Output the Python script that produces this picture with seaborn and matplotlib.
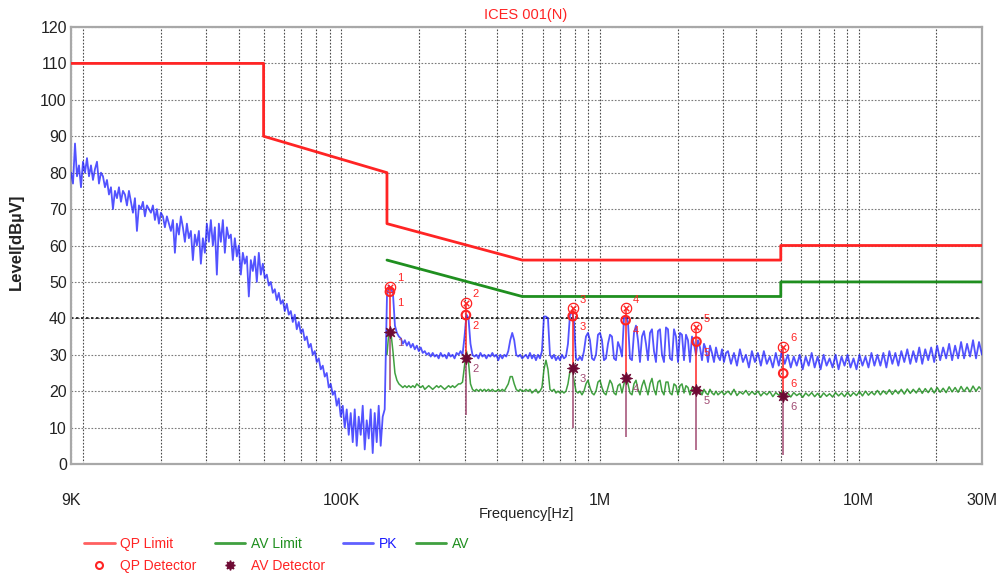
import matplotlib
matplotlib.use("Agg")
import matplotlib.pyplot as plt
import numpy as np
import pandas as pd
import seaborn as sns
from matplotlib.lines import Line2D
from matplotlib.ticker import FixedLocator, LogLocator, NullFormatter

# limit lines (frequency in Hz, level in dBuV)
qp_limit_freq = [9e3, 50e3, 50e3, 150e3, 150e3, 500e3, 5e6, 5e6, 30e6]
qp_limit_lvl = [110, 110, 90, 80, 66, 56, 56, 60, 60]
av_limit_freq = [150e3, 500e3, 5e6, 5e6, 30e6]
av_limit_lvl = [56, 46, 46, 50, 50]

# PK sweep (start Hz, stop Hz)
pk_low_span = (9.0e3, 147e3)
pk_low = [80, 77, 88, 79, 82, 76, 83, 80, 84, 79,
          82, 78, 81, 83, 77, 80, 79, 76, 78, 74,
          76, 70, 75, 73, 76, 72, 75, 74, 71, 75,
          72, 69, 73, 64, 71, 70, 72, 68, 71, 70,
          69, 71, 67, 70, 66, 69, 68, 65, 68, 66,
          64, 67, 58, 66, 63, 68, 65, 61, 66, 62,
          64, 56, 63, 60, 64, 55, 62, 58, 66, 61,
          67, 60, 65, 52, 66, 61, 67, 58, 65, 62,
          63, 56, 62, 57, 60, 52, 58, 55, 57, 46,
          56, 53, 57, 50, 58, 52, 55, 51, 52, 49,
          50, 47, 48, 45, 47, 44, 45, 42, 44, 41,
          42, 39, 41, 37, 39, 36, 37, 34, 35, 32,
          33, 30, 31, 28, 29, 26, 27, 24, 25, 21,
          22, 19, 20, 16, 18, 13, 16, 10, 15, 8,
          14, 6, 15, 5, 13, 8, 16, 4, 12, 7,
          15, 3, 14, 6, 16, 5, 13, 15]
pk_mid_span = (150e3, 500e3)
pk_mid = [46, 49, 48, 47, 38, 36, 35, 34.5, 33, 34,
          32.5, 33.5, 32, 33, 31.5, 32.5, 31, 32, 30.5, 31,
          30, 30.5, 29.5, 30.5, 29.5, 30, 29, 30.5, 29.5, 30,
          29, 30.5, 29.5, 30, 29, 30.5, 30, 31, 30, 35,
          41, 40, 33, 30, 29.5, 30, 29, 30.5, 29.5, 30,
          29, 30, 29.5, 30.5, 29.5, 30, 28.5, 30, 29, 30,
          29.5, 31, 34, 36, 34, 30, 29.5, 30, 29]
pk_hi_span = (508e3, 3.07e6)
pk_hi = [29.5, 30, 29, 30.5, 29, 30, 28.5, 30, 29, 31,
         40.5, 40.5, 40, 30, 29, 30, 28.5, 29.5, 28.5, 30,
         29, 29.5, 33, 41, 42, 39, 29, 28.5, 29.5, 28.5,
         31, 35, 36, 34, 29, 28.5, 30, 35.5, 36, 34,
         28.5, 29, 33, 35.5, 35, 29, 28.5, 33.5, 32, 29.5,
         40, 40.5, 39, 29, 28.5, 36, 38, 34, 28, 35,
         36.5, 33, 28.5, 36, 37, 31, 28, 36.5, 37, 30,
         28, 37.5, 37, 29, 28.5, 37, 35, 28, 36, 35.5,
         28.5, 35.5, 34, 28, 35, 33, 30, 34, 32, 28.5,
         33, 31.5, 28, 32.5, 30.5, 28, 32, 29.5, 28.5, 31.5,
         28, 30.5]
pk_top_span = (3.125e6, 30e6)
pk_top = [31, 27.5, 30.5, 27, 31.5, 28, 30, 26.5, 31, 28,
          30.5, 27, 31, 27.5, 29.5, 26.5, 30.5, 27, 31, 27.5,
          30, 26.5, 29.5, 27, 30, 26, 29.5, 27, 30.5, 26.5,
          29.5, 26, 30, 27, 29, 26.5, 30, 26, 29.5, 27,
          30, 26.5, 29, 26, 30, 27, 29.5, 26.5, 30.5, 27,
          30, 27, 30.5, 26.5, 31, 27.5, 30.5, 27, 31, 28,
          31.5, 27.5, 31, 28, 32, 27.5, 31.5, 28.5, 32, 28,
          32.5, 28.5, 32, 29, 33, 28.5, 32.5, 29, 33.5, 29,
          33, 29.5, 34, 29, 33.5, 30]

# AV sweep (starts at 150 kHz)
av_mid_span = (150e3, 500e3)
av_mid = [30, 36.5, 36, 31, 25, 23, 22, 21.5, 21, 21.5,
          21, 21.5, 21, 21.5, 21, 22, 21.5, 21, 21.5, 20.5,
          21, 21.5, 21, 20.5, 21, 21.5, 21, 21.5, 21, 20.5,
          21, 21.5, 21, 21.5, 21, 21.5, 22, 22, 22.5, 27,
          31, 28, 22, 20.5, 20, 20.5, 20, 20.5, 20, 20.5,
          20, 20.5, 20, 20.5, 20, 20, 20.5, 20, 20.5, 20,
          21, 22, 24, 24, 22, 20.5, 20, 20.5, 20]
av_hi_span = (508e3, 3.07e6)
av_hi = [20, 20.5, 20, 20.5, 19.5, 20, 20.5, 19.5, 20, 21,
         26, 28.5, 26, 20.5, 20, 20.5, 19.5, 20, 19.5, 20,
         19.5, 20, 22, 25.5, 26, 23, 20, 19.5, 20, 19,
         20, 22, 23, 21, 19.5, 19, 20, 22.5, 23, 21,
         19.5, 19, 21, 23, 22, 19.5, 19, 21.5, 22, 19.5,
         22, 24, 22, 19.5, 19, 22, 23, 20.5, 19, 21.5,
         23, 21, 19, 22, 23.5, 20.5, 19, 22.5, 23, 20,
         19, 22.5, 22.5, 19.5, 19, 22, 21.5, 19, 21.5, 22,
         19.5, 21.5, 21, 19, 21, 21, 19.5, 21, 20, 19,
         20.5, 19.5, 19, 20.5, 19.5, 19, 20, 19, 19.5, 20,
         19, 19.5]
av_top_span = (3.125e6, 30e6)
av_top = [20, 19, 20.5, 18.8, 19.8, 19.2, 20.2, 18.9, 19.9, 19.1,
          20, 18.7, 19.7, 19, 19.9, 18.5, 19.6, 18.9, 19.8, 18.6,
          19.5, 18.4, 19.6, 18.8, 19.4, 18.3, 19.5, 18.7, 19.6, 18.5,
          19.4, 18.3, 19.5, 18.6, 19.3, 18.4, 19.6, 18.7, 19.5, 18.5,
          19.7, 18.6, 19.6, 18.8, 19.9, 18.7, 20, 18.9, 19.8, 19,
          20.2, 19, 20.1, 19.2, 20.4, 19.1, 20.3, 19.3, 20.5, 19.2,
          20.6, 19.4, 20.5, 19.5, 20.8, 19.4, 20.7, 19.6, 20.9, 19.5,
          21, 19.7, 20.8, 19.6, 21.2, 19.8, 21, 19.7, 21.3, 19.9,
          21.1, 19.8, 21.4, 20, 21.2, 20.3]

# final measurement markers
marker_id = ["1", "2", "3", "4", "5", "6"]
marker_freq = [154e3, 303e3, 784e3, 1.256e6, 2.36e6, 5.11e6]
peak_lvl = [48.6, 44.2, 42.8, 42.8, 37.6, 32.2]
qp_lvl = [47.3, 40.9, 40.6, 39.5, 33.6, 24.9]
av_lvl = [36.3, 29.1, 26.4, 23.6, 20.3, 18.7]
stem_low = [20.3, 13.5, 9.9, 7.4, 3.8, 2.5]

RED = "#ff2424"
GREEN = "#1f8f1f"
BLUE = "#1a1aff"
MAROON = "#6e0a34"
MAUVE = "#a04a72"


def sweep(*segments):
    parts = []
    for (f0, f1), lvl in segments:
        parts.append(pd.DataFrame({"freq": np.geomspace(f0, f1, len(lvl)), "level": lvl}))
    return pd.concat(parts, ignore_index=True)


pk_df = sweep((pk_low_span, pk_low), (pk_mid_span, pk_mid), (pk_hi_span, pk_hi), (pk_top_span, pk_top))
av_df = sweep((av_mid_span, av_mid), (av_hi_span, av_hi), (av_top_span, av_top))
qp_lim_df = pd.DataFrame({"freq": qp_limit_freq, "level": qp_limit_lvl})
av_lim_df = pd.DataFrame({"freq": av_limit_freq, "level": av_limit_lvl})
marks = pd.DataFrame({"freq": marker_freq, "peak": peak_lvl, "qp": qp_lvl,
                      "av": av_lvl, "low": stem_low, "id": marker_id})

sns.set_theme(style="white")
plt.rcParams["font.family"] = ["Liberation Sans", "DejaVu Sans"]

fig = plt.figure(figsize=(9.99, 5.78), dpi=100)
ax = fig.add_axes([71 / 999, 1 - 464 / 578, 911 / 999, 437 / 578])
ax.set_xscale("log")
ax.set_xlim(9e3, 30e6)
ax.set_ylim(0, 120)

# grid
ax.xaxis.set_major_locator(FixedLocator([9e3, 1e5, 1e6, 1e7, 3e7]))
ax.xaxis.set_minor_locator(LogLocator(base=10, subs=np.arange(1, 10)))
ax.xaxis.set_minor_formatter(NullFormatter())
ax.set_xticklabels(["9K", "100K", "1M", "10M", "30M"])
ax.set_yticks(np.arange(0, 121, 10))
ax.grid(False)
ax.xaxis.grid(True, which="both", color="#4a4a4a", ls=(0, (1.5, 1.5)), lw=0.8)
ax.yaxis.grid(True, which="major", color="#7a7a7a", ls=(0, (1.5, 1.5)), lw=0.8)
ax.axhline(40, color="#111111", ls=(0, (1.5, 1.5)), lw=1.2, zorder=1)
ax.tick_params(axis="both", which="both", length=0, labelsize=11.5, colors="#222222")
ax.tick_params(axis="x", pad=21)
ax.tick_params(axis="y", pad=3)
for s in ax.spines.values():
    s.set_color("#a8a8a8")
    s.set_linewidth(1.6)

# traces
sns.lineplot(data=av_df, x="freq", y="level", estimator=None, sort=False,
             color=GREEN, lw=1.1, alpha=0.85, ax=ax, zorder=2)
sns.lineplot(data=pk_df, x="freq", y="level", estimator=None, sort=False,
             color=BLUE, lw=1.3, alpha=0.75, ax=ax, zorder=3)
sns.lineplot(data=qp_lim_df, x="freq", y="level", estimator=None, sort=False,
             color=RED, lw=2, ax=ax, zorder=4)
sns.lineplot(data=av_lim_df, x="freq", y="level", estimator=None, sort=False,
             color=GREEN, lw=2, ax=ax, zorder=4)

# stems and markers
ax.vlines(marks["freq"], marks["av"], marks["peak"], color=RED, lw=1.1, zorder=5)
ax.vlines(marks["freq"], marks["low"], marks["av"], color=MAUVE, lw=1.1, zorder=5)
sns.scatterplot(data=marks, x="freq", y="peak", marker=r"$\otimes$", s=70,
                color=RED, linewidth=0, ax=ax, zorder=7)
sns.scatterplot(data=marks, x="freq", y="qp", marker="o", s=38, facecolor="none",
                edgecolor=RED, linewidth=1.5, ax=ax, zorder=7)
sns.scatterplot(data=marks, x="freq", y="av", marker=(8, 1, 0), s=80,
                color=MAROON, edgecolor=MAROON, linewidth=0.5, ax=ax, zorder=7)
for _, r in marks.iterrows():
    ax.annotate(r["id"], (r["freq"], r["peak"]), xytext=(5, 4), textcoords="offset points",
                color=RED, fontsize=8, zorder=8)
    ax.annotate(r["id"], (r["freq"], r["qp"]), xytext=(5, -10), textcoords="offset points",
                color=RED, fontsize=8, zorder=8)
    ax.annotate(r["id"], (r["freq"], r["av"]), xytext=(5, -10), textcoords="offset points",
                color=MAUVE, fontsize=8, zorder=8)
ax.set_xlabel("")
ax.set_ylabel("")

fig.text(526 / 999, 1 - 15 / 578, "ICES 001(N)", color=RED, ha="center", va="center", fontsize=10.5)
fig.text(526 / 999, 1 - 514 / 578, "Frequency[Hz]", color="#222222", ha="center", va="center", fontsize=10.5)
fig.text(16 / 999, 1 - 242 / 578, "Level[dBµV]", color="#222222", ha="center", va="center",
         rotation=90, fontsize=12, fontweight="bold")

handles = [
    Line2D([], [], color="#ff6060", lw=2),
    Line2D([], [], color=RED, marker="o", ls="none", mfc="none", ms=5, mew=1.5),
    Line2D([], [], color="#40a040", lw=2),
    Line2D([], [], color=MAROON, marker=(8, 1, 0), ls="none", ms=7),
    Line2D([], [], color="#6060ff", lw=2),
    Line2D([], [], color="#40a040", lw=2),
]
labels = ["QP Limit", "QP Detector", "AV Limit", "AV Detector", "PK", "AV"]
label_colors = [RED, RED, GREEN, RED, BLUE, GREEN]
leg = fig.legend(handles, labels, loc="upper left", bbox_to_anchor=(84 / 999, 1 - 537 / 578),
                 ncol=4, frameon=False, fontsize=10, handlelength=2.2, handletextpad=0.4,
                 columnspacing=1.3, labelspacing=0.6, borderpad=0, borderaxespad=0)
for t, c in zip(leg.get_texts(), label_colors):
    t.set_color(c)

fig.savefig("out.png", dpi=100)
